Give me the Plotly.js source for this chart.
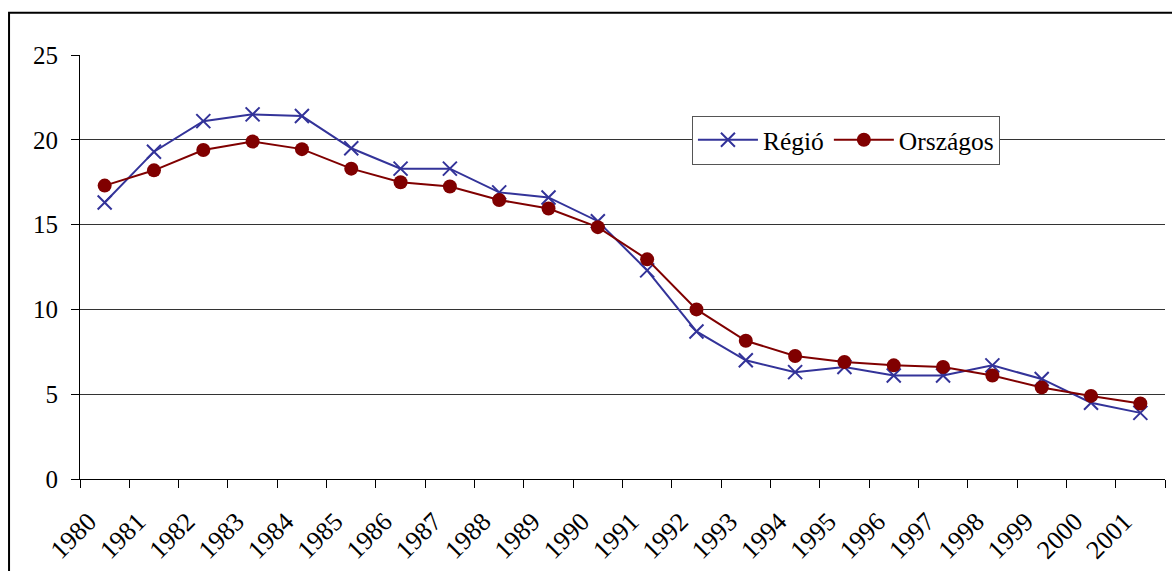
<!DOCTYPE html>
<html>
<head>
<meta charset="utf-8">
<script src="https://cdn.plot.ly/plotly-3.0.1.min.js"></script>
<style>html,body{margin:0;padding:0;background:#fff;}#chart{width:1172px;height:571px;}</style>
</head>
<body>
<div id="chart"></div>
<script>
const years = ["1980","1981","1982","1983","1984","1985","1986","1987","1988","1989","1990","1991","1992","1993","1994","1995","1996","1997","1998","1999","2000","2001"];
const regio = [16.3,19.3,21.1,21.5,21.4,19.5,18.3,18.3,16.9,16.6,15.2,12.3,8.7,7.0,6.3,6.6,6.1,6.1,6.7,5.9,4.5,3.9];
const orszagos = [17.3,18.2,19.4,19.9,19.45,18.3,17.5,17.25,16.45,15.95,14.85,12.95,10.0,8.15,7.25,6.9,6.7,6.6,6.1,5.4,4.9,4.45];
const seriesNames = ["Régió","Országos"];
const yTicks = [0,5,10,15,20,25];

const font = {family: "Liberation Serif, Times New Roman, serif", color: "#000"};

const traces = [
  {
    x: years, y: regio, name: seriesNames[0], type: "scatter", mode: "lines+markers",
    line: {color: "#333399", width: 2},
    marker: {symbol: "x-thin-open", size: 14, color: "#333399", line: {color: "#333399", width: 2}}
  },
  {
    x: years, y: orszagos, name: seriesNames[1], type: "scatter", mode: "lines+markers",
    line: {color: "#800000", width: 2},
    marker: {symbol: "circle", size: 14, color: "#800000"}
  }
];

const layout = {
  width: 1172, height: 571,
  margin: {l: 80, r: 7, t: 55, b: 92},
  paper_bgcolor: "#fff", plot_bgcolor: "#fff",
  font: Object.assign({size: 25}, font),
  showlegend: true,
  legend: {
    x: 0.564, y: 0.857, xanchor: "left", yanchor: "top",
    orientation: "h", bgcolor: "#fff", bordercolor: "#555", borderwidth: 1,
    font: Object.assign({size: 25.5}, font),
    itemwidth: 60, tracegroupgap: 0
  },
  xaxis: {
    type: "category",
    tickson: "boundaries",
    ticks: "outside", ticklen: 8, tickcolor: "#000", tickwidth: 1,
    tickangle: -45,
    tickfont: Object.assign({size: 26}, font),
    ticklabelstandoff: 16,
    ticklabelshift: -16,
    showline: true, linecolor: "#000", linewidth: 1,
    showgrid: false, zeroline: false,
    range: [-0.5, 21.5]
  },
  yaxis: {
    range: [0, 25], tickvals: yTicks, ticktext: yTicks.map(String),
    ticks: "outside", ticklen: 8, tickcolor: "#000",
    tickfont: Object.assign({size: 25}, font),
    ticklabelstandoff: 8,
    showline: true, linecolor: "#000", linewidth: 1,
    showgrid: true, gridcolor: "#333", gridwidth: 1,
    zeroline: false
  },
  shapes: [
    {type: "rect", xref: "paper", yref: "paper",
     x0: -0.0654, x1: 1.05, y0: -0.4, y1: 1.0995,
     line: {color: "#000", width: 2}, fillcolor: "rgba(0,0,0,0)", layer: "below"}
  ]
};

Plotly.newPlot("chart", traces, layout, {displayModeBar: false, staticPlot: true});
</script>
</body>
</html>
